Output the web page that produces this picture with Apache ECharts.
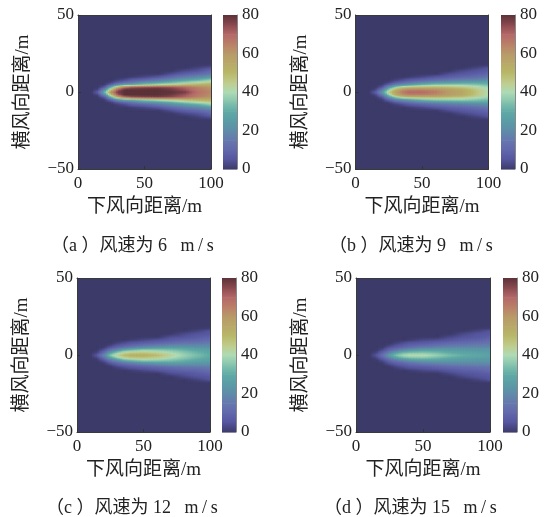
<!DOCTYPE html>
<html>
<head>
<meta charset="utf-8">
<script src="https://cdn.jsdelivr.net/npm/echarts@6/dist/echarts.min.js"></script>
<style>html,body{margin:0;padding:0;background:#fff}#c{width:556px;height:517px}</style>
</head>
<body>
<div id="c"></div>
<script>
var downwindX = [10,15,20,25,30,35,40,50,60,70,80,90,100];
var crosswindY = [0,2,3.5,5,6.5,8,10,12,14,16,18];
var xTicksInterval = 50;
var barLevels = [0,5,10,15,20,25,30,35,40,45,50,55,60,65,70,75,80];
var barColors = ['#3c3a68','#55559e','#6268ac','#6678ae','#5f8ca8','#5a9ca6','#60aaa6','#85c4ae','#aedbb5','#c0cc8c','#b8b868','#b8a868','#b89a68','#ba7f68','#b46868','#8a4a50','#5c3238'];
var captions = ['（a ）风速为 6   m\u2009/\u2009s','（b ）风速为 9   m\u2009/\u2009s','（c ）风速为 12   m\u2009/\u2009s','（d ）风速为 15   m\u2009/\u2009s'];
var xName = '下风向距离/m';
var yName = '横风向距离/m';
var wind6 = [
 [0,8,32,64,78,80,80,80,80,80,78,68,64],
 [0,2,20,48,72,80,80,80,80,78,73,66,62],
 [0,0,6,30,52,66,72,75,76,74,70,64,60],
 [0,0,1,10,24,30,34,38,42,46,50,52,54],
 [0,0,0,2,8,12,15,24,28,33,38,42,46],
 [0,0,0,0,2,4,8,11,16,22,28,32,38],
 [0,0,0,0,0,0,1,3,6,11,16,20,26],
 [0,0,0,0,0,0,0,0,0,4,8,11,15],
 [0,0,0,0,0,0,0,0,0,0,3,5,10],
 [0,0,0,0,0,0,0,0,0,0,0,2,5],
 [0,0,0,0,0,0,0,0,0,0,0,0,0]
];
var wind9 = [
 [0,7,24,46,58,66,70,70,66,60,56,48,41],
 [0,2,15,36,52,60,64,64,62,58,54,47,40],
 [0,0,5,22,36,44,48,50,50,48,46,42,38],
 [0,0,1,9,18,23,27,34,37,38,38,36,33],
 [0,0,0,2,7,11,14,20,24,26,28,29,29],
 [0,0,0,0,2,4,7,10,13,16,18,20,22],
 [0,0,0,0,0,0,1,3,6,8,10,12,15],
 [0,0,0,0,0,0,0,0,0,4,6,8,10],
 [0,0,0,0,0,0,0,0,0,0,3,5,7],
 [0,0,0,0,0,0,0,0,0,0,0,2,5],
 [0,0,0,0,0,0,0,0,0,0,0,0,0]
];
var wind12 = [
 [0,6,18,36,44,50,53,54,50,44,38,34,30],
 [0,2,11,26,36,42,45,46,44,40,36,32,29],
 [0,0,5,14,22,30,34,38,37,35,32,29,27],
 [0,0,1,7,11,15,19,24,27,28,27,25,24],
 [0,0,0,2,6,8,10,14,17,20,20,20,20],
 [0,0,0,0,2,4,6,8,10,12,14,15,16],
 [0,0,0,0,0,0,1,3,5,7,9,10,12],
 [0,0,0,0,0,0,0,0,0,4,5,7,9],
 [0,0,0,0,0,0,0,0,0,0,3,5,6],
 [0,0,0,0,0,0,0,0,0,0,0,2,5],
 [0,0,0,0,0,0,0,0,0,0,0,0,0]
];
var wind15 = [
 [0,5,13,26,35,39,42,42,38,34,31,29,27],
 [0,2,9,18,27,32,34,35,33,30,28,27,26],
 [0,0,4,10,15,20,24,27,27,26,25,24,24],
 [0,0,1,6,9,11,14,18,20,21,21,21,21],
 [0,0,0,2,5,7,9,11,13,15,16,17,17],
 [0,0,0,0,2,4,6,7,9,11,12,13,14],
 [0,0,0,0,0,0,1,3,4,6,8,9,11],
 [0,0,0,0,0,0,0,0,0,3,5,6,8],
 [0,0,0,0,0,0,0,0,0,0,3,5,6],
 [0,0,0,0,0,0,0,0,0,0,0,2,5],
 [0,0,0,0,0,0,0,0,0,0,0,0,0]
];
var tables = [wind6, wind9, wind12, wind15];

var plots = [
 {l:78,  t:15,  w:133, h:154, bl:223, cx:51,  cy:237},
 {l:355.5,t:15, w:133, h:154, bl:501, cx:329, cy:237},
 {l:77,  t:278, w:133, h:154, bl:222, cx:46,  cy:499},
 {l:356, t:278, w:134, h:154, bl:503, cx:324, cy:499}
];

function hex(c){return [parseInt(c.substr(1,2),16),parseInt(c.substr(3,2),16),parseInt(c.substr(5,2),16)];}
var rgbStops = barColors.map(hex);
function colorOf(v){
  var s = barLevels[1]-barLevels[0];
  var p = Math.max(0,Math.min(v,80))/s, i = Math.min(Math.floor(p),barLevels.length-2), f = p-i;
  var a = rgbStops[i], b = rgbStops[i+1];
  return 'rgb('+Math.round(a[0]+(b[0]-a[0])*f)+','+Math.round(a[1]+(b[1]-a[1])*f)+','+Math.round(a[2]+(b[2]-a[2])*f)+')';
}

var SERIF = '"Liberation Serif","Noto Sans CJK SC",serif';

function plumeData(table){
  var out = [];
  for (var j=0;j<crosswindY.length-1;j++){
    for (var i=0;i<downwindX.length-1;i++){
      var a=table[j][i],b=table[j][i+1],c=table[j+1][i],d=table[j+1][i+1];
      if (a+b+c+d===0) continue;
      out.push([downwindX[i],crosswindY[j],downwindX[i+1],crosswindY[j+1],a,b,c,d]);
      out.push([downwindX[i],-crosswindY[j],downwindX[i+1],-crosswindY[j+1],a,b,c,d]);
    }
  }
  return out;
}
function renderPlume(params,api){
  var x0=api.value(0),y0=api.value(1),x1=api.value(2),y1=api.value(3);
  var a=api.value(4),b=api.value(5),c=api.value(6),d=api.value(7);
  var p0=api.coord([x0,y0]),p1=api.coord([x1,y1]);
  var W=p1[0]-p0[0],H=p1[1]-p0[1];
  var nx=Math.max(1,Math.round(Math.abs(W)/1.5)),ny=Math.max(1,Math.round(Math.abs(H)));
  var kids=[];
  for (var u=0;u<nx;u++){
    for (var v=0;v<ny;v++){
      var fx=(u+.5)/nx,fy=(v+.5)/ny;
      var val=(a*(1-fx)+b*fx)*(1-fy)+(c*(1-fx)+d*fx)*fy;
      var ya=p0[1]+H*v/ny,yb=p0[1]+H*(v+1)/ny;
      kids.push({type:'rect',silent:true,shape:{x:p0[0]+W*u/nx,y:Math.min(ya,yb),width:W/nx+.6,height:Math.abs(yb-ya)+.6},style:{fill:colorOf(val)}});
    }
  }
  return {type:'group',children:kids};
}
function renderBar(params,api){
  var lo=api.value(0),hi=api.value(1);
  var p0=api.coord([0,lo]),p1=api.coord([1,hi]);
  return {type:'rect',silent:true,shape:{x:p0[0],y:p1[1],width:p1[0]-p0[0],height:p0[1]-p1[1]+.6},
    style:{fill:new echarts.graphic.LinearGradient(0,1,0,0,[{offset:0,color:colorOf(lo)},{offset:1,color:colorOf(hi)}])}};
}

var grid=[],xAxis=[],yAxis=[],series=[],graphic=[];
var axisLine={show:true,onZero:false,lineStyle:{color:'#3a3a3a',width:1}};
var labelStyle={color:'#222',fontFamily:SERIF,fontSize:17};
plots.forEach(function(p,k){
  var g=grid.length;
  grid.push({left:p.l,top:p.t,width:p.w,height:p.h,show:true,backgroundColor:barColors[0],borderWidth:0,containLabel:false});
  var xi=xAxis.length,yi=yAxis.length;
  xAxis.push({gridIndex:g,type:'value',min:0,max:100,interval:xTicksInterval,position:'bottom',z:6,
    axisLine:axisLine,axisTick:{show:true,inside:true,length:3,lineStyle:{color:'#333'}},splitLine:{show:false},
    axisLabel:Object.assign({margin:6},labelStyle),
    name:xName,nameLocation:'middle',nameGap:29,nameTextStyle:{color:'#222',fontFamily:SERIF,fontSize:19}});
  yAxis.push({gridIndex:g,type:'value',min:-50,max:50,interval:50,position:'left',z:6,
    axisLine:axisLine,axisTick:{show:true,inside:true,length:3,lineStyle:{color:'#333'}},splitLine:{show:false},
    axisLabel:Object.assign({margin:4,formatter:function(v){return v<0?'−'+Math.abs(v):''+v;}},labelStyle),
    name:yName,nameLocation:'middle',nameGap:45,nameRotate:90,nameTextStyle:{color:'#222',fontFamily:SERIF,fontSize:19}});
  xAxis.push({gridIndex:g,type:'value',min:0,max:100,position:'top',z:6,axisLine:axisLine,axisTick:{show:false},axisLabel:{show:false},splitLine:{show:false}});
  yAxis.push({gridIndex:g,type:'value',min:-50,max:50,position:'right',z:6,axisLine:axisLine,axisTick:{show:false},axisLabel:{show:false},splitLine:{show:false}});
  series.push({type:'custom',coordinateSystem:'cartesian2d',xAxisIndex:xi,yAxisIndex:yi,clip:true,silent:true,
    renderItem:renderPlume,dimensions:['x0','y0','x1','y1','a','b','c','d'],encode:{x:0,y:1},data:plumeData(tables[k])});

  var cg=grid.length;
  grid.push({left:p.bl,top:p.t,width:14,height:p.h,show:false});
  var cxi=xAxis.length,cyi=yAxis.length;
  xAxis.push({gridIndex:cg,type:'value',min:0,max:1,show:false});
  yAxis.push({gridIndex:cg,type:'value',min:0,max:80,interval:20,position:'right',z:6,
    axisLine:{show:true,onZero:false,lineStyle:{color:'#888',width:1}},axisTick:{show:false},splitLine:{show:false},
    axisLabel:Object.assign({margin:5},labelStyle)});
  var bars=[];
  for (var i=0;i<barLevels.length-1;i++) bars.push([barLevels[i],barLevels[i+1]]);
  series.push({type:'custom',coordinateSystem:'cartesian2d',xAxisIndex:cxi,yAxisIndex:cyi,silent:true,clip:false,
    renderItem:renderBar,encode:{y:0},data:bars});

  graphic.push({type:'text',left:p.cx,top:p.cy,silent:true,style:{text:captions[k],fill:'#222',font:'18px '+SERIF}});
});

var chart=echarts.init(document.getElementById('c'),null,{renderer:'canvas'});
chart.setOption({animation:false,backgroundColor:'#fff',grid:grid,xAxis:xAxis,yAxis:yAxis,series:series,graphic:graphic});
</script>
</body>
</html>
